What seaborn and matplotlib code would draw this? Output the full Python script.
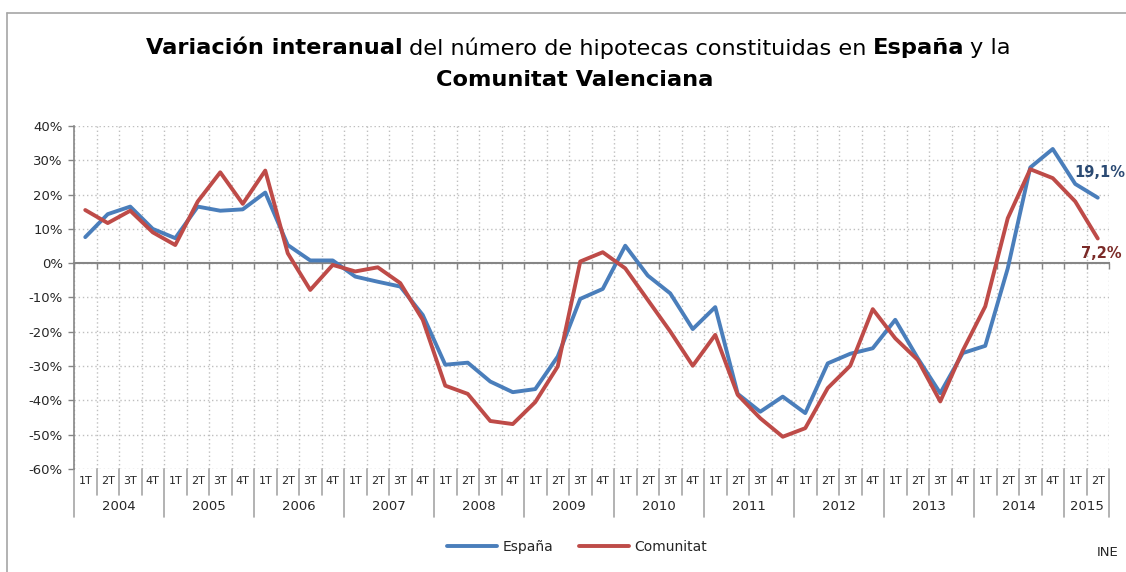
import numpy as np
import pandas as pd
import matplotlib
matplotlib.use("Agg")
import matplotlib.pyplot as plt
import seaborn as sns

# ---------------- data ----------------
years = ["2004", "2005", "2006", "2007", "2008", "2009", "2010",
         "2011", "2012", "2013", "2014", "2015"]
quarters_per_year = [4, 4, 4, 4, 4, 4, 4, 4, 4, 4, 4, 2]
quarter_names = ["1T", "2T", "3T", "4T"]

espana = [7.6, 14.3, 16.5, 10.0, 7.3, 16.5, 15.3, 15.7, 20.6, 5.3, 0.8, 0.8,
          -3.9, -5.4, -6.8, -15.1, -29.6, -29.0, -34.5, -37.6, -36.7, -27.2,
          -10.4, -7.5, 5.1, -3.6, -8.8, -19.2, -12.8, -38.1, -43.3, -38.9,
          -43.7, -29.2, -26.4, -24.8, -16.5, -27.7, -37.9, -26.2, -24.1, -1.5,
          27.9, 33.3, 23.1, 19.1]
comunitat = [15.5, 11.7, 15.3, 9.0, 5.3, 18.0, 26.5, 17.3, 27.0, 2.9, -7.8, -0.5,
             -2.4, -1.2, -5.8, -16.5, -35.7, -38.1, -46.0, -46.9, -40.5, -30.1,
             0.5, 3.2, -1.5, -10.7, -19.9, -29.9, -20.9, -38.4, -45.2, -50.6,
             -48.1, -36.4, -29.9, -13.4, -21.9, -28.2, -40.3, -25.5, -12.6, 13.1,
             27.4, 24.8, 18.0, 7.2]
series_names = ["España", "Comunitat"]
last_labels = ["19,1%", "7,2%"]
y_ticks = [-60, -50, -40, -30, -20, -10, 0, 10, 20, 30, 40]
source = "INE"

# ---------------- build frame ----------------
quarter_labels = []
year_of = []
for y, n in zip(years, quarters_per_year):
    for q in range(n):
        quarter_labels.append(quarter_names[q])
        year_of.append(y)
n = len(quarter_labels)
idx = np.arange(n)
df = pd.DataFrame({
    "i": np.concatenate([idx, idx]),
    "valor": espana + comunitat,
    "serie": [series_names[0]] * n + [series_names[1]] * n,
})

BLUE = "#4A7EBB"
RED = "#BE4B48"
GRID = "#BFBFBF"
AXC = "#868686"

sns.set_theme(style="white")
plt.rcParams["font.family"] = ["DejaVu Sans"]

W, H = 1126, 572
fig = plt.figure(figsize=(W / 100, H / 100), dpi=100)
ax = fig.add_axes([74 / W, 1 - 469 / H, (1109 - 74) / W, (469 - 126) / H])

sns.lineplot(data=df, x="i", y="valor", hue="serie", palette=[BLUE, RED],
             linewidth=2.8, sort=False, ax=ax, legend=True)
handles, labels = ax.get_legend_handles_labels()
ax.get_legend().remove()

ax.set_xlim(-0.5, n - 0.5)
ax.set_ylim(y_ticks[0], y_ticks[-1])
ax.set_xlabel("")
ax.set_ylabel("")

# y axis
ax.set_yticks(y_ticks)
ax.set_yticklabels([f"{v}%" for v in y_ticks], fontsize=9.5, color="#262626")
ax.tick_params(axis="y", direction="out", length=4, width=1, color=AXC, pad=4, left=True)
ax.yaxis.grid(True, linestyle=(0, (1, 2)), color=GRID, linewidth=1)

# x axis at zero with tick marks at category boundaries
bounds = np.arange(n + 1) - 0.5
ax.set_xticks(bounds)
ax.set_xticklabels([])
ax.tick_params(axis="x", direction="out", length=4, width=1, color=AXC, bottom=True)
ax.xaxis.grid(True, linestyle=(0, (1, 2)), color=GRID, linewidth=1)
ax.spines["bottom"].set_position(("data", 0))
ax.spines["bottom"].set_color(AXC)
ax.spines["bottom"].set_linewidth(1.5)
ax.spines["left"].set_color(AXC)
ax.spines["left"].set_linewidth(1.2)
ax.spines["top"].set_visible(False)
ax.spines["right"].set_visible(False)
ax.set_axisbelow(True)
for ln in ax.lines:
    ln.set_zorder(3)

# category labels below the plot
tr = ax.get_xaxis_transform()
ah = 469 - 126
qy = -(481 - 469) / ah
yy = -(506 - 469) / ah
qsep = -(495 - 469) / ah
ysep = -(517 - 469) / ah
for i, q in enumerate(quarter_labels):
    ax.text(i, qy, q, transform=tr, ha="center", va="center", fontsize=8,
            color="#262626", clip_on=False)
start = 0
for y, cnt in zip(years, quarters_per_year):
    ax.text(start + (cnt - 1) / 2, yy, y, transform=tr, ha="center", va="center",
            fontsize=9.5, color="#262626", clip_on=False)
    ax.plot([start - 0.5, start - 0.5], [0, ysep], transform=tr, color="#A6A6A6",
            lw=1.2, clip_on=False)
    for k in range(1, cnt):
        ax.plot([start + k - 0.5] * 2, [0, qsep], transform=tr, color="#A6A6A6",
                lw=1.2, clip_on=False)
    start += cnt
ax.plot([n - 0.5, n - 0.5], [0, ysep], transform=tr, color="#A6A6A6", lw=1.2, clip_on=False)

# end labels
ax.annotate(last_labels[0], xy=(n - 1, espana[-1]), xytext=(-17, 18),
            textcoords="offset points", fontsize=10.5, fontweight="bold",
            color="#2B4A73", ha="left", va="center", annotation_clip=False)
ax.annotate(last_labels[1], xy=(n - 1, comunitat[-1]), xytext=(-12, -11),
            textcoords="offset points", fontsize=10.5, fontweight="bold",
            color="#7A2A27", ha="left", va="center", annotation_clip=False)

# legend
fig.legend(handles, labels, loc="center", bbox_to_anchor=(577 / W, 1 - 547 / H),
           ncol=2, frameon=False, fontsize=10, handlelength=3.6, handletextpad=0.4,
           columnspacing=1.8)
fig.text(1118 / W, 1 - 553 / H, source, ha="right", va="center", fontsize=9.5, color="#262626")

# outer frame (partial, as in reference)
fig.add_artist(plt.Line2D([7 / W, 1], [1 - 13 / H, 1 - 13 / H], transform=fig.transFigure,
                          color="#A6A6A6", lw=1.2))
fig.add_artist(plt.Line2D([7 / W, 7 / W], [0, 1 - 13 / H], transform=fig.transFigure,
                          color="#A6A6A6", lw=1.2))

# title with mixed weights
renderer = fig.canvas.get_renderer()


def rich_line(parts, cy, size):
    texts = []
    for s, bold in parts:
        t = fig.text(0, cy, s, fontsize=size, fontweight="bold" if bold else "normal",
                     va="center", ha="left", color="black")
        texts.append(t)
    widths = [t.get_window_extent(renderer).width for t in texts]
    gap = 0.28 * size * 100 / 72
    total = sum(widths) + gap * (len(texts) - 1)
    return texts, widths, gap, total


line1 = [("Variación interanual", True), ("del número de hipotecas constituidas en", False),
         ("España", True), ("y la", False)]
line2 = [("Comunitat Valenciana", True)]

texts, widths, gap, total = rich_line(line1, 1 - 48 / H, 14)
for t in texts:
    t.remove()
size = 14 * 867 / total
for parts, cx, cy in [(line1, 578.5, 48), (line2, 574.5, 80)]:
    texts, widths, gap, total = rich_line(parts, 1 - cy / H, size)
    x = cx - total / 2
    for t, w in zip(texts, widths):
        t.set_x(x / W)
        x += w + gap

fig.savefig("out.png", dpi=100)
